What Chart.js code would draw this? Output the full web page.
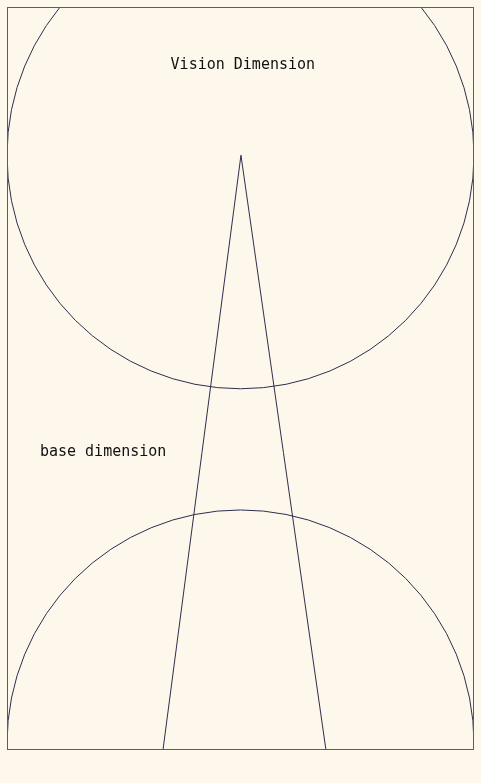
<!DOCTYPE html>
<html>
<head>
<meta charset="utf-8">
<script src="https://cdn.jsdelivr.net/npm/chart.js@4"></script>
<style>
  html, body { margin: 0; padding: 0; background: #fdf7ec; }
  #wrap { width: 481px; height: 783px; }
</style>
</head>
<body>
<div id="wrap"><canvas id="grafica" width="481" height="783"></canvas></div>
<script>
// data units: half the frame width = 1
const circleCenters = [[0, 2.547], [0, 0.028]];
const circleRadii = [1, 1];
const triangleX = [-0.332, 0.002, 0.366];
const triangleY = [0, 2.547, 0];
const labelTexts = ['Vision Dimension', 'base dimension'];
const labelPos = [[0.01, 2.935], [-0.859, 1.275]];
const labelAlign = ['center', 'left'];

const lineColor = '#2e2e4c';

const shapes = {
  id: 'shapes',
  afterDatasetsDraw(chart) {
    const { ctx, chartArea: a, scales: { x, y } } = chart;
    ctx.save();
    ctx.beginPath();
    ctx.rect(a.left, a.top, a.right - a.left, a.bottom - a.top);
    ctx.clip();
    ctx.strokeStyle = lineColor;
    ctx.lineWidth = 1;
    circleCenters.forEach((c, i) => {
      const cx = x.getPixelForValue(c[0]);
      const cy = y.getPixelForValue(c[1]);
      const r = x.getPixelForValue(c[0] + circleRadii[i]) - cx;
      ctx.beginPath();
      ctx.arc(cx, cy, r, 0, Math.PI * 2);
      ctx.stroke();
    });
    ctx.restore();

    ctx.save();
    ctx.fillStyle = '#111';
    ctx.font = '15px "DejaVu Sans Mono", monospace';
    ctx.textBaseline = 'middle';
    labelTexts.forEach((t, i) => {
      ctx.textAlign = labelAlign[i];
      ctx.fillText(t, x.getPixelForValue(labelPos[i][0]), y.getPixelForValue(labelPos[i][1]));
    });
    // frame
    ctx.strokeStyle = '#5c5c68';
    ctx.lineWidth = 1;
    ctx.strokeRect(a.left + 0.5, a.top + 0.5, a.right - a.left - 1, a.bottom - a.top - 1);
    ctx.restore();
  }
};

new Chart(document.getElementById('grafica').getContext('2d'), {
  type: 'scatter',
  data: {
    datasets: [{
      data: triangleX.map((v, i) => ({ x: v, y: triangleY[i] })),
      showLine: true,
      borderColor: lineColor,
      borderWidth: 1,
      pointRadius: 0,
      fill: false,
      tension: 0
    }]
  },
  options: {
    responsive: false,
    animation: false,
    devicePixelRatio: 1,
    layout: { padding: { left: 7, right: 7, top: 7, bottom: 33 } },
    plugins: { legend: { display: false }, tooltip: { enabled: false } },
    scales: {
      x: { type: 'linear', min: -1, max: 1, display: false },
      y: { type: 'linear', min: 0, max: 3.182, display: false }
    }
  },
  plugins: [shapes]
});
</script>
</body>
</html>
